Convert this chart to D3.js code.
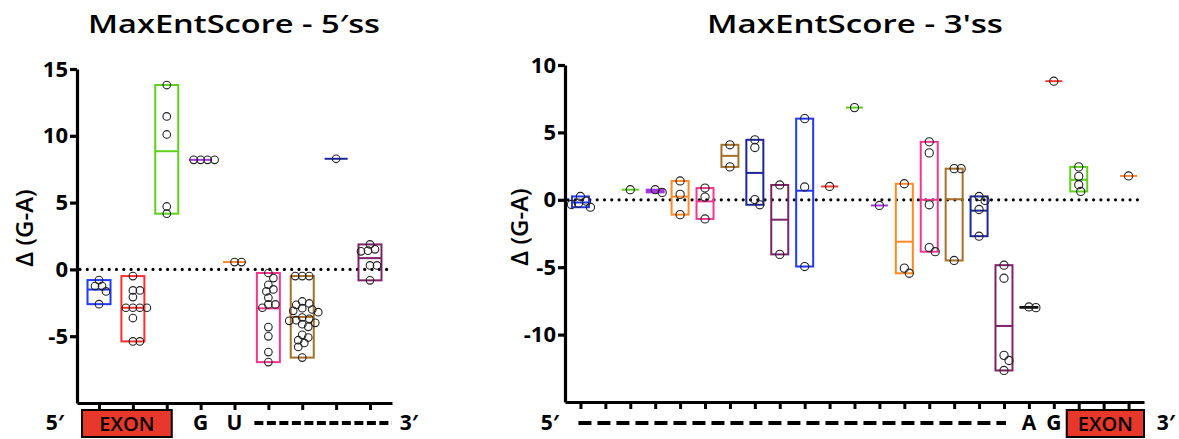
<!DOCTYPE html>
<html>
<head>
<meta charset="utf-8">
<script src="https://cdn.jsdelivr.net/npm/d3@7"></script>
<style>
  body { margin: 0; background: #fff; }
  svg { display: block; font-family: "Open Sans", "DejaVu Sans", sans-serif; font-weight: 700; }
</style>
</head>
<body>
<div id="chart"></div>
<script>
// 5'ss panel data
const leftCats = ["-3", "-2", "-1", "G", "U", "+3", "+4", "+5", "+6"];
const leftColors = ["#2238ff", "#ff2f2f", "#5fcf1c", "#a536e8", "#ff8a25", "#f2388e", "#a56f28", "#1d2698", "#7d2468"];
const leftValues = [
  [-0.8, -1.25, -1.25, -1.65, -2.6],
  [-0.5, -1.57, -1.57, -2.07, -2.87, -2.87, -2.87, -2.87, -3.64, -5.39, -5.39],
  [13.8, 11.45, 10.1, 4.71, 4.17],
  [8.2, 8.2, 8.2, 8.2],
  [0.55, 0.55],
  [-0.27, -0.65, -1.15, -1.5, -1.65, -2.12, -2.62, -2.62, -2.87, -4.32, -5.01, -6.19, -6.94],
  [-0.5, -0.5, -0.5, -2.4, -2.55, -2.65, -2.9, -3.0, -3.1, -3.2, -3.6, -3.7, -3.8, -3.85, -4.0, -4.1, -4.3, -4.9, -5.1, -5.3, -5.5, -5.8, -6.6],
  [8.28],
  [1.87, 1.5, 1.4, 1.35, 0.3, 0.3, -0.82]
];
const leftTicks = [-5, 0, 5, 10, 15];

// 3'ss panel data
const rightCats = ["-20", "-19", "-18", "-17", "-16", "-15", "-14", "-13", "-12", "-11", "-10", "-9",
  "-8", "-7", "-6", "-5", "-4", "-3", "A", "G", "+1", "+2", "+3"];
const rightColors = ["#2238ff", "#ff2f2f", "#5fcf1c", "#a536e8", "#ff8a25", "#f2388e", "#a56f28", "#1d2698",
  "#7d2468", "#2238ff", "#ff3a2f", "#5fcf1c", "#a536e8", "#ff8a25", "#f2388e", "#a56f28", "#1d2698",
  "#7d2468", "#111111", "#ff3a2f", "#5fcf1c", "#a536e8", "#ff8a25"];
const rightValues = [
  [0.25, -0.1, -0.25, -0.35, -0.55],
  [],
  [0.75],
  [0.75, 0.55],
  [1.4, 0.4, -1.1],
  [0.87, 0.2, -1.42],
  [4.08, 2.44],
  [4.45, 3.88, 0.02, -0.37],
  [1.1, -4.05],
  [6.02, 0.95, -4.95],
  [0.99],
  [6.84],
  [-0.42],
  [1.19, -5.07, -5.45],
  [4.3, 3.48, -0.37, -3.55, -3.85],
  [2.31, 2.31, -4.5],
  [0.25, -0.05, -0.72, -2.7],
  [-4.85, -5.82, -11.54, -11.92, -12.66],
  [-7.95, -8.0],
  [8.8],
  [2.44, 1.74, 1.12, 0.62],
  [],
  [1.77]
];
const rightTicks = [-10, -5, 0, 5, 10];

const W = 1179, H = 439;
const svg = d3.select("#chart").append("svg")
  .attr("width", W)
  .attr("height", H)
  .style("background-color", "white");

// simple beeswarm: each point takes the nearest free horizontal slot
function swarm(vals, y, minD) {
  const placed = [];
  vals.slice().sort((a, b) => b - a).forEach(v => {
    const py = y(v);
    for (let k = 0; k < 200; k++) {
      const dx = k === 0 ? 0 : (k % 2 ? 1 : -1) * Math.ceil(k / 2);
      if (placed.every(q => Math.hypot(q.dx - dx, q.py - py) >= minD)) {
        placed.push({ v: v, py: py, dx: dx });
        break;
      }
    }
  });
  return placed;
}

function drawPanel(opt) {
  const x = d3.scalePoint().domain(opt.cats).range(opt.xRange).padding(opt.pad);
  const y = d3.scaleLinear().domain(opt.yDomain).range(opt.yRange);
  const g = svg.append("g");

  // title
  g.append("text")
    .attr("x", opt.titleX)
    .attr("y", 33)
    .attr("text-anchor", "middle")
    .attr("textLength", opt.titleW)
    .attr("lengthAdjust", "spacingAndGlyphs")
    .style("font-size", "25px")
    .style("font-weight", "600")
    .text(opt.title);

  // y label
  g.append("text")
    .attr("transform", "translate(" + opt.labelX + "," + opt.labelY + ") rotate(-90)")
    .attr("text-anchor", "middle")
    .attr("dominant-baseline", "central")
    .style("font-size", "24px")
    .style("font-weight", "600")
    .text("\u0394 (G-A)");

  // zero line
  g.append("line")
    .attr("x1", opt.xRange[0] + 3)
    .attr("x2", opt.xRange[1])
    .attr("y1", y(0))
    .attr("y2", y(0))
    .attr("stroke", "#000")
    .attr("stroke-width", 3.2)
    .attr("stroke-linecap", "round")
    .attr("stroke-dasharray", "0 7.3");

  // floating bars (min to max, line at mean)
  opt.cats.forEach((c, i) => {
    const vals = opt.values[i];
    if (!vals.length) return;
    const cx = x(c);
    const lo = d3.min(vals), hi = d3.max(vals), mean = d3.mean(vals);
    const col = opt.colors[i];
    if (hi > lo) {
      g.append("rect")
        .attr("x", cx - opt.boxW / 2)
        .attr("y", y(hi))
        .attr("width", opt.boxW)
        .attr("height", y(lo) - y(hi))
        .attr("fill", "none")
        .attr("stroke", col)
        .attr("stroke-width", 2);
    }
    g.append("line")
      .attr("x1", cx - opt.boxW / 2)
      .attr("x2", cx + opt.boxW / 2)
      .attr("y1", y(mean))
      .attr("y2", y(mean))
      .attr("stroke", col)
      .attr("stroke-width", 2);

    g.selectAll(null)
      .data(swarm(vals, y, opt.minD))
      .enter()
      .append("circle")
      .attr("cx", d => cx + d.dx)
      .attr("cy", d => d.py)
      .attr("r", opt.r)
      .attr("fill", "none")
      .attr("stroke", "#222")
      .attr("stroke-width", 1.1);
  });

  // axes
  const yAxis = d3.axisLeft(y).tickValues(opt.ticks).tickSize(7).tickSizeOuter(0).tickPadding(2)
    .tickFormat(d => String(d));
  const ya = g.append("g")
    .attr("transform", "translate(" + opt.xRange[0] + ",0)")
    .call(yAxis);
  ya.select(".domain").attr("stroke-width", 3.2);
  ya.selectAll(".tick line").attr("stroke-width", 3.2);
  ya.selectAll(".tick text")
    .style("font-size", "22px")
    .style("font-family", "'Open Sans', sans-serif")
    .style("font-weight", "700")
    .attr("fill", "#000");

  const xAxis = d3.axisBottom(x).tickSize(7).tickSizeOuter(0).tickFormat("");
  const xa = g.append("g")
    .attr("transform", "translate(0," + opt.yRange[0] + ")")
    .call(xAxis);
  xa.select(".domain").attr("stroke-width", 3.2);
  xa.selectAll(".tick line").attr("stroke-width", 3);

  return { x: x, y: y, g: g };
}

function exonBox(g, x0, x1) {
  g.append("rect")
    .attr("x", x0)
    .attr("y", 410)
    .attr("width", x1 - x0)
    .attr("height", 27)
    .attr("fill", "#e8382b")
    .attr("stroke", "#000")
    .attr("stroke-width", 2);
  g.append("text")
    .attr("x", (x0 + x1) / 2)
    .attr("y", 431)
    .attr("text-anchor", "middle")
    .style("font-size", "20px")
    .style("font-weight", "600")
    .text("EXON");
}

function bottomText(g, xp, str) {
  g.append("text")
    .attr("x", xp)
    .attr("y", 430)
    .attr("text-anchor", "middle")
    .style("font-size", "21px")
    .text(str);
}

function dashLine(g, x0, x1, dash) {
  g.append("line")
    .attr("x1", x0)
    .attr("x2", x1)
    .attr("y1", 423)
    .attr("y2", 423)
    .attr("stroke", "#000")
    .attr("stroke-width", 4)
    .attr("stroke-dasharray", dash);
}

// left panel
const L = drawPanel({
  title: "MaxEntScore - 5\u2032ss", titleX: 234, titleW: 292,
  labelX: 23, labelY: 228,
  cats: leftCats, values: leftValues, colors: leftColors, ticks: leftTicks,
  xRange: [77, 392], pad: 0.65,
  yDomain: [-10, 15], yRange: [403, 69],
  boxW: 23, r: 3.8, minD: 6.5
});
bottomText(L.g, 55, "5\u2032");
exonBox(L.g, L.x("-3") - 17, L.x("-1") + 5);
bottomText(L.g, L.x("G"), "G");
bottomText(L.g, L.x("U"), "U");
dashLine(L.g, L.x("+3") - 14, 392, "9 3.5");
bottomText(L.g, 409, "3\u2032");

// right panel
const R = drawPanel({
  title: "MaxEntScore - 3'ss", titleX: 855, titleW: 296,
  labelX: 518, labelY: 227,
  cats: rightCats, values: rightValues, colors: rightColors, ticks: rightTicks,
  xRange: [565, 1144], pad: 0.62,
  yDomain: [-15, 10], yRange: [402, 65],
  boxW: 17, r: 4.1, minD: 7
});
bottomText(R.g, 550, "5\u2032");
dashLine(R.g, R.x("-20") - 2, R.x("-3") + 2, "13 6");
bottomText(R.g, R.x("A"), "A");
bottomText(R.g, R.x("G"), "G");
exonBox(R.g, R.x("+1") - 12, 1144);
bottomText(R.g, 1166, "3\u2032");
</script>
</body>
</html>
